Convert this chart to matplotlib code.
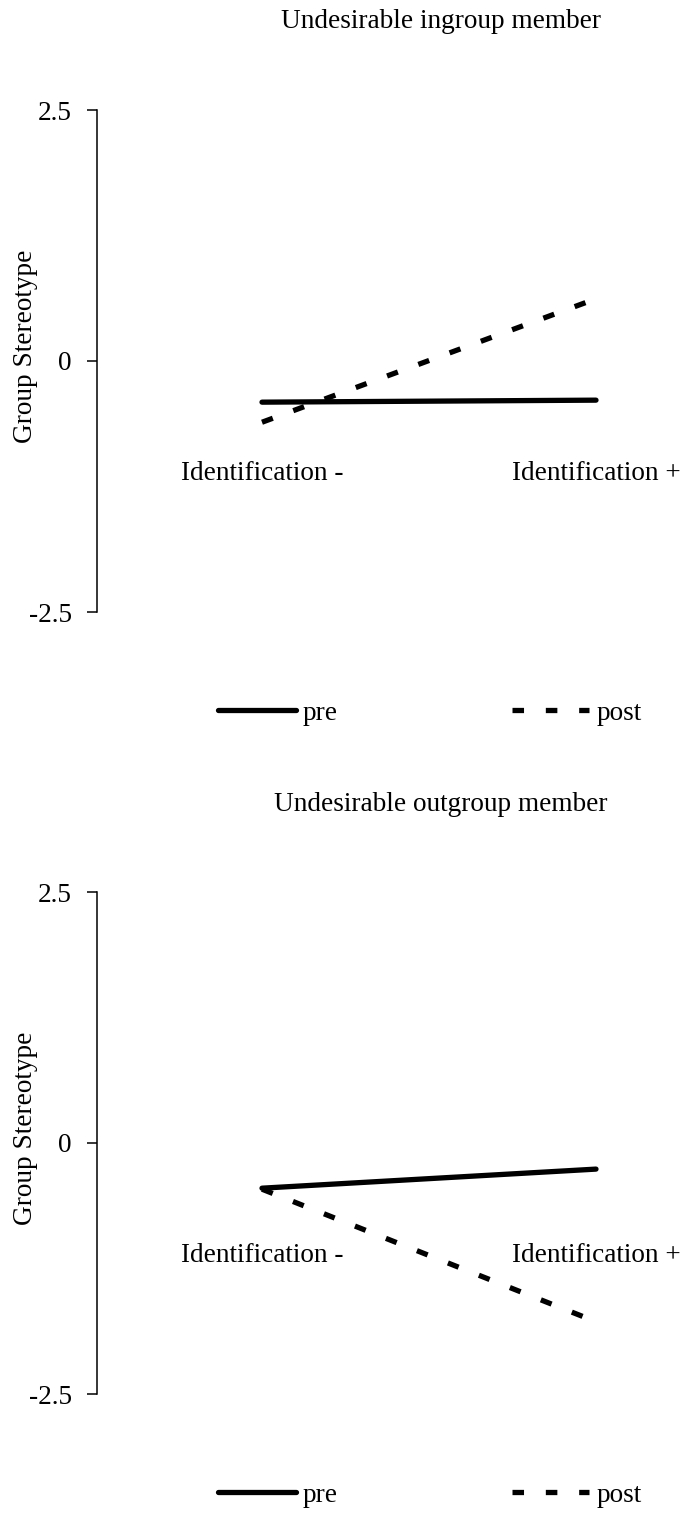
import matplotlib
matplotlib.use("Agg")
import matplotlib.pyplot as plt
from matplotlib.lines import Line2D

plt.rcParams["font.family"] = ["Liberation Serif", "DejaVu Serif"]
plt.rcParams["lines.scale_dashes"] = False

# Data
categories = ["Identification -", "Identification +"]
x_pos = [0, 1]
titles = ["Undesirable ingroup member", "Undesirable outgroup member"]
pre_ingroup = [-0.41, -0.39]
post_ingroup = [-0.61, 0.62]
pre_outgroup = [-0.45, -0.26]
post_outgroup = [-0.46, -1.78]
yticks = [-2.5, 0, 2.5]
ytick_labels = ["-2.5", "0", "2.5"]

W, H = 682, 1516
FS = 19.6
LW = 3.8
DASH = (0, (8.3, 15.7))

fig = plt.figure(figsize=(W / 100, H / 100), dpi=100)

panels = [
    (titles[0], pre_ingroup, post_ingroup, 110),
    (titles[1], pre_outgroup, post_outgroup, 892),
]

for title, pre, post, top_px in panels:
    bottom_px = top_px + 502
    ax = fig.add_axes([97 / W, 1 - bottom_px / H, (W - 97) / W, 502 / H])
    ax.plot(x_pos, pre, color="black", lw=LW, solid_capstyle="round")
    ax.plot(x_pos, post, color="black", lw=LW, linestyle=DASH, dash_capstyle="butt")

    ax.set_xlim(-165 / 334, (W - 97 - 165) / 334)
    ax.set_ylim(-2.5, 2.5)
    ax.set_yticks(yticks)
    ax.set_yticklabels(ytick_labels, fontsize=FS)
    ax.tick_params(axis="y", length=7.2, width=1.1, pad=11)
    ax.set_xticks([])
    for s in ["top", "right", "bottom"]:
        ax.spines[s].set_visible(False)
    ax.spines["left"].set_linewidth(1.1)

    # category labels sit under the lines like Excel's axis labels
    for xp, lab in zip(x_pos, categories):
        ax.text(xp, -1.12, lab, ha="center", va="center", fontsize=FS)

    # title and y label in figure pixels
    fig.text(441 / W, 1 - (top_px - 88) / H, title, ha="center", va="center", fontsize=FS)
    fig.text(26 / W, 1 - (top_px + 236) / H, "Group Stereotype", ha="center",
             va="center", rotation=90, fontsize=FS)

    handles = [
        Line2D([], [], color="black", lw=LW, solid_capstyle="round"),
        Line2D([], [], color="black", lw=LW, linestyle=DASH, dash_capstyle="butt"),
    ]
    fig.legend(handles, ["pre", "post"], loc="center left",
               bbox_to_anchor=(218 / W, 1 - (top_px + 603) / H),
               ncol=2, frameon=False, fontsize=FS, borderpad=0, borderaxespad=0,
               handlelength=2.85, handletextpad=0.26, columnspacing=6.4)

plt.savefig("out.png", dpi=100)
plt.close()
